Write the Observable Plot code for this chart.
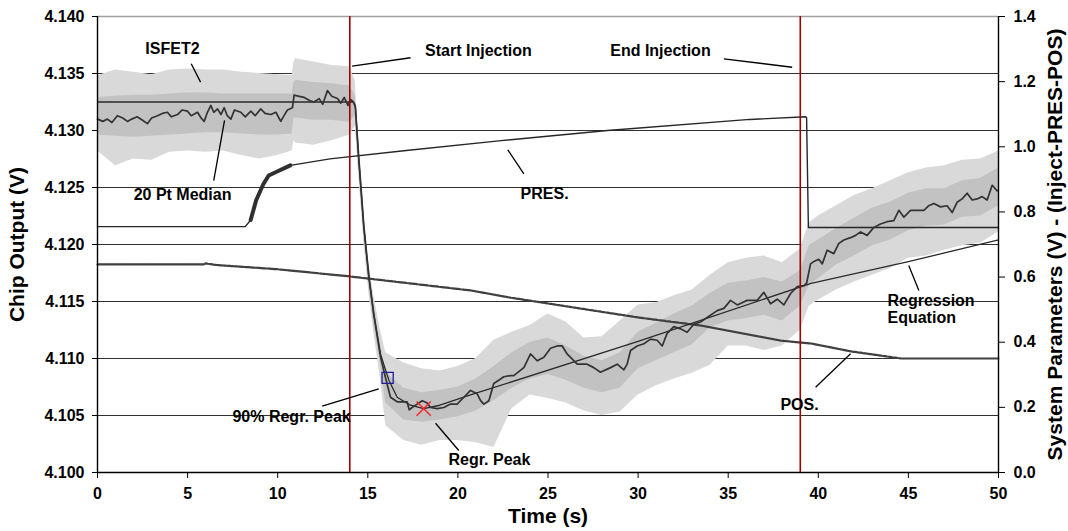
<!DOCTYPE html>
<html><head><meta charset="utf-8">
<script src="https://cdn.jsdelivr.net/npm/d3@7"></script>
<script src="https://cdn.jsdelivr.net/npm/@observablehq/plot@0.6"></script>
<style>body{margin:0;background:#fff} #chart{width:1068px;height:531px}</style>
</head><body><div id="chart"></div>
<script>
// ---- tick values ----
const xTicks = [0, 5, 10, 15, 20, 25, 30, 35, 40, 45, 50];
const leftTicks = [4.100, 4.105, 4.110, 4.115, 4.120, 4.125, 4.130, 4.135, 4.140];
const rightTicks = [0.0, 0.2, 0.4, 0.6, 0.8, 1.0, 1.2, 1.4];
const injections = [14, 39];

// ---- ISFET2 raw signal envelope (V) ----
const bandT = [0,1,2,3,4,5,6,7,8,9,10,10.8,10.9,11,12,13,14,14.3,14.5,14.78,15.06,15.33,15.7,
  16,17,18,19,20,21,22,23,24,25,26,27,28,29,30,31,32,33,34,35,36,37,38,39,39.5,40,41,42,43,44,45,46,47,48,49,50];
const spikeHi = [4.1348,4.1353,4.1351,4.1349,4.1353,4.1354,4.1353,4.1353,4.1351,4.1350,4.1349,4.1348,
  4.1360,4.1363,4.1360,4.1357,4.1356,4.1344,
  4.1287,4.1228,4.1184,4.1155,4.1125,
  4.1105,4.1096,4.1091,4.1089,4.1093,4.1100,4.1116,4.1123,4.1129,4.1139,4.1132,4.1118,4.1119,4.1133,4.1147,4.1149,4.1155,4.1160,4.1173,4.1184,4.1188,4.1190,4.1184,4.1196,
  4.1219,
  4.1225,4.1234,4.1243,4.1249,4.1256,4.1263,4.1267,4.1269,4.1274,4.1275,4.1282];
const coreHi = [4.1329,4.1330,4.1331,4.1331,4.1332,4.1333,4.1333,4.1332,4.1332,4.1332,4.1332,4.1332,
  4.1342,4.1344,4.1342,4.1341,4.1339,4.1331,
  4.1282,4.1223,4.1179,4.1148,4.1114,
  4.1088,4.1074,4.1070,4.1072,4.1075,4.1082,4.1093,4.1105,4.1114,4.1118,4.1111,4.1102,4.1098,4.1105,4.1123,4.1131,4.1139,4.1146,4.1157,4.1166,4.1168,4.1171,4.1167,4.1177,
  4.1199,
  4.1204,4.1214,4.1223,4.1232,4.1237,4.1245,4.1249,4.1249,4.1256,4.1258,4.1267];
const coreLo = [4.1296,4.1295,4.1294,4.1295,4.1296,4.1297,4.1298,4.1298,4.1297,4.1296,4.1296,4.1297,
  4.1311,4.1311,4.1309,4.1309,4.1307,4.1313,
  4.1265,4.1207,4.1163,4.1131,4.1095,
  4.1061,4.1046,4.1044,4.1046,4.1049,4.1054,4.1063,4.1074,4.1082,4.1086,4.1081,4.1074,4.1070,4.1074,4.1091,4.1098,4.1105,4.1112,4.1127,4.1133,4.1135,4.1138,4.1133,4.1146,
  4.1164,
  4.1170,4.1182,4.1190,4.1199,4.1204,4.1212,4.1216,4.1217,4.1224,4.1225,4.1234];
const spikeLo = [4.1282,4.1269,4.1275,4.1274,4.1281,4.1282,4.1281,4.1282,4.1278,4.1275,4.1278,4.1282,
  4.1291,4.1289,4.1287,4.1291,4.1296,4.1304,
  4.1261,4.1202,4.1158,4.1123,4.1082,
  4.1041,4.1028,4.1024,4.1028,4.1028,4.1026,4.1022,4.1056,4.1068,4.1065,4.1061,4.1054,4.1050,4.1053,4.1068,4.1076,4.1082,4.1087,4.1094,4.1111,4.1111,4.1107,4.1111,4.1125,
  4.1146,
  4.1151,4.1160,4.1167,4.1173,4.1179,4.1188,4.1190,4.1195,4.1199,4.1201,4.1211];

// ---- 20 Pt Median (V) ----
const medianT = [0.0,0.3,0.55,0.8,1.1,1.4,1.66,1.9,2.2,2.5,2.77,3.0,3.33,3.6,3.88,4.1,4.44,4.7,4.99,5.2,5.55,5.75,5.92,6.1,6.29,6.45,6.66,6.85,7.03,7.2,7.4,7.6,7.95,8.2,8.51,8.75,9.06,9.3,9.62,9.9,10.17,10.35,10.54,10.82,10.91,11.2,11.47,11.8,12.02,12.3,12.5,12.76,13.0,13.32,13.5,13.69,13.9,14.06,14.2,14.3,
  14.5,14.78,15.06,15.33,15.7,16.0,16.26,16.63,17.0,17.18,17.3,17.46,17.74,18.02,18.3,18.48,18.85,19.22,19.59,19.96,20.33,20.7,21.07,21.26,21.44,21.72,21.99,22.37,22.55,22.92,23.1,23.66,24.03,24.4,24.77,25.14,25.51,25.79,26.06,26.25,26.62,27.17,27.54,27.91,28.47,28.84,29.21,29.39,29.58,29.95,30.32,30.69,31.06,31.34,31.61,31.98,32.35,32.72,33.09,33.46,33.83,34.39,34.76,35.13,35.5,36.05,36.61,36.98,37.35,37.72,38.09,38.46,38.83,39.2,39.35,39.57,39.75,40.03,40.22,40.49,40.86,41.14,41.42,41.79,42.07,42.34,42.71,43.08,43.45,43.82,44.19,44.47,44.75,45.12,45.49,45.86,46.13,46.41,46.78,47.15,47.43,47.7,47.98,48.26,48.54,48.81,49.09,49.37,49.65,49.93];
const medianV = [4.1310,4.1308,4.1310,4.1307,4.1313,4.1311,4.1308,4.1310,4.1312,4.1309,4.1306,4.1311,4.1313,4.1315,4.1316,4.1312,4.1314,4.1318,4.1317,4.1313,4.1316,4.1311,4.1308,4.1316,4.1322,4.1316,4.1319,4.1314,4.1320,4.1313,4.1310,4.1318,4.1316,4.1312,4.1317,4.1313,4.1319,4.1315,4.1314,4.1316,4.1308,4.1313,4.1318,4.1320,4.1331,4.1330,4.1329,4.1326,4.1325,4.1328,4.1323,4.1335,4.1330,4.1328,4.1324,4.1329,4.1322,4.1327,4.1325,4.1322,
  4.1276,4.1216,4.1172,4.1139,4.1102,4.1082,4.1066,4.1062,4.1062,4.1062,4.1055,4.1057,4.1060,4.1063,4.1061,4.1057,4.1056,4.1057,4.1060,4.1060,4.1066,4.1072,4.1069,4.1063,4.1060,4.1063,4.1078,4.1082,4.1084,4.1085,4.1085,4.1092,4.1104,4.1098,4.1101,4.1109,4.1111,4.1111,4.1104,4.1101,4.1095,4.1095,4.1092,4.1088,4.1092,4.1095,4.1090,4.1095,4.1107,4.1111,4.1113,4.1117,4.1116,4.1111,4.1122,4.1128,4.1126,4.1123,4.1130,4.1132,4.1136,4.1142,4.1144,4.1151,4.1147,4.1151,4.1151,4.1158,4.1148,4.1152,4.1147,4.1157,4.1163,4.1164,4.1166,4.1183,4.1185,4.1187,4.1183,4.1195,4.1192,4.1201,4.1204,4.1206,4.1208,4.1211,4.1208,4.1215,4.1218,4.1220,4.1221,4.1230,4.1224,4.1230,4.1230,4.1230,4.1234,4.1236,4.1233,4.1234,4.1228,4.1237,4.1240,4.1245,4.1239,4.1240,4.1242,4.1239,4.1252,4.1247];

// ---- Regression equation (V) ----
const regT = [0, 14.2, 14.32, 14.5, 14.78, 15.06, 15.33, 15.7, 16.17, 16.63, 17.37, 18.1, 19, 20.7, 30, 39.6, 45, 50];
const regV = [4.1325, 4.1325, 4.1320, 4.1274, 4.1215, 4.1171, 4.1139, 4.1104, 4.1081, 4.1066, 4.1059, 4.1056, 4.1059, 4.1068, 4.1115, 4.1166, 4.1185, 4.1204];

// ---- System parameters (right axis, V) ----
const presT = [0, 8.2, 8.5, 8.8, 9.2, 9.5, 10, 10.7, 12.9, 17, 22.4, 28.3, 36.2, 39.3, 39.35, 39.45, 50];
const presV = [0.755, 0.755, 0.775, 0.835, 0.885, 0.912, 0.925, 0.943, 0.963, 0.988, 1.019, 1.050, 1.084, 1.092, 1.090, 0.752, 0.752];
const posT = [0, 5.9, 6.0, 6.6, 10, 14, 20.7, 22.9, 30, 33.5, 37.9, 39.6, 41.8, 44.6, 50];
const posV = [0.639, 0.639, 0.642, 0.637, 0.624, 0.602, 0.559, 0.537, 0.476, 0.451, 0.405, 0.396, 0.372, 0.350, 0.350];

// ---- markers ----
const peak90 = {t: 16.1, v: 4.1083};
const peak = {t: 18.1, v: 4.1056};

// ---- annotations ----
const annoLabels = ["ISFET2", "20 Pt Median", "Start Injection", "End Injection", "PRES.", "POS.", "90% Regr. Peak", "Regr. Peak"];
const annoT = [4.16, 4.72, 21.14, 31.24, 24.81, 38.96, 10.77, 21.75];
const annoV = [4.13719, 4.12439, 4.13702, 4.13702, 4.12447, 4.10596, 4.10491, 4.10114];
const arrowT1 = [5.20, 6.45, 17.37, 34.76, 23.66, 45.58, 39.85, 12.47, 20.05];
const arrowV1 = [4.13585, 4.12561, 4.13638, 4.13629, 4.12620, 4.11596, 4.10748, 4.10582, 4.10193];
const arrowT2 = [5.72, 7.05, 14.13, 38.55, 22.77, 45.02, 41.79, 15.61, 18.76];
const arrowV2 = [4.13424, 4.13088, 4.13564, 4.13555, 4.12831, 4.11816, 4.11041, 4.10734, 4.10432];

// ---- build tables ----
const toLeft = r => 4.100 + r * (0.040 / 1.4);
const fromLeft = v => (v - 4.100) * 1.4 / 0.040;
const band = bandT.map((t, i) => ({t, sHi: spikeHi[i], cHi: coreHi[i], cLo: coreLo[i], sLo: spikeLo[i]}));
const median = medianT.map((t, i) => ({t, v: medianV[i]}));
const reg = regT.map((t, i) => ({t, v: regV[i]}));
const pres = presT.map((t, i) => ({t, r: presV[i]}));
const pos = posT.map((t, i) => ({t, r: posV[i]}));
const annos = annoLabels.map((label, i) => ({label, t: annoT[i], v: annoV[i]}));
const arrows = arrowT1.map((t1, i) => ({t1, v1: arrowV1[i], t2: arrowT2[i], v2: arrowV2[i]}));

const FONT = "'Liberation Sans', Arial, Helvetica, sans-serif";

const svg = Plot.plot({
  width: 1068, height: 531,
  marginLeft: 97, marginRight: 70, marginTop: 16, marginBottom: 59,
  x: {domain: [0, 50]},
  y: {domain: [4.100, 4.140]},
  style: {fontFamily: FONT, fontWeight: "bold", fontSize: "16px", color: "#000", background: "#fff"},
  marks: [
    Plot.ruleY(leftTicks.slice(1, -1), {stroke: "#303030", strokeWidth: 1.2}),
    Plot.ruleY([4.140], {stroke: "#a0a0a0", strokeWidth: 1.3}),
    Plot.areaY(band, {x: "t", y1: "sLo", y2: "sHi", fill: "#d9d9d9", curve: "linear"}),
    Plot.areaY(band, {x: "t", y1: "cLo", y2: "cHi", fill: "#c2c2c2", curve: "linear"}),
    Plot.line(pres, {x: "t", y: d => toLeft(d.r), stroke: "#262626", strokeWidth: 1.4}),
    Plot.line(pres.filter(d => d.t >= 8.5 && d.t <= 10.7), {x: "t", y: d => toLeft(d.r), stroke: "#303030", strokeWidth: 4}),
    Plot.line(pos, {x: "t", y: d => toLeft(d.r), stroke: "#404040", strokeWidth: 2.2, strokeDasharray: "2,0.7"}),
    Plot.line(reg, {x: "t", y: "v", stroke: "#2a2a2a", strokeWidth: 1.3}),
    Plot.line(median, {x: "t", y: "v", stroke: "#333", strokeWidth: 1.7}),
    Plot.ruleX(injections, {stroke: "#a00000", strokeWidth: 1.6}),
    Plot.dot([peak90], {x: "t", y: "v", symbol: "square", r: 6.3, stroke: "#1c1c9c", strokeWidth: 1.3, fill: "none"}),
    Plot.dot([peak], {x: "t", y: "v", symbol: "times", r: 6.5, stroke: "#ff2020", strokeWidth: 1.4}),
    Plot.ruleX([0], {stroke: "#000", strokeWidth: 1.4}),
    Plot.ruleX([50], {stroke: "#000", strokeWidth: 1.4}),
    Plot.ruleY([4.100], {stroke: "#000", strokeWidth: 1.4}),
    Plot.axisY(leftTicks, {anchor: "left", tickSize: 5, tickPadding: 8, tickFormat: d => d.toFixed(3), label: null, fontSize: 16, fontWeight: "bold"}),
    Plot.axisY(rightTicks.map(toLeft), {anchor: "right", tickSize: 6, tickPadding: 9, tickFormat: v => Math.abs(fromLeft(v)).toFixed(1), label: null, fontSize: 16, fontWeight: "bold"}),
    Plot.axisX(xTicks, {anchor: "bottom", tickSize: 6, tickPadding: 9, tickFormat: d => String(d), label: null, fontSize: 16, fontWeight: "bold"}),
    Plot.text(["Chip Output (V)"], {frameAnchor: "left", textAnchor: "middle", dx: -80, rotate: -90, fontSize: 21, fontWeight: "bold", fill: "#000"}),
    Plot.text(["System Parameters (V) - (Inject-PRES-POS)"], {frameAnchor: "right", textAnchor: "middle", dx: 57, rotate: -90, fontSize: 21, fontWeight: "bold", fill: "#000"}),
    Plot.text(["Time (s)"], {frameAnchor: "bottom", dy: 50, fontSize: 21, fontWeight: "bold", fill: "#000"}),
    Plot.link(arrows, {x1: "t1", y1: "v1", x2: "t2", y2: "v2", stroke: "#000", strokeWidth: 1.3, ariaLabel: "annotation arrow"}),
    Plot.text(annos, {x: "t", y: "v", text: "label", fontSize: 16, fontWeight: "bold", fill: "#000"}),
    Plot.text(["Regression\nEquation"], {x: 43.84, y: 4.11434, textAnchor: "start", lineHeight: 1.1, fontSize: 16, fontWeight: "bold", fill: "#000"})
  ]
});

const sel = d3.select(svg);
const defs = sel.insert("defs", ":first-child");
defs.append("marker").attr("id", "ah").attr("viewBox", "0 0 10 10")
  .attr("refX", 10).attr("refY", 5).attr("markerWidth", 10).attr("markerHeight", 8)
  .attr("markerUnits", "userSpaceOnUse").attr("orient", "auto")
  .append("path").attr("d", "M0,0L10,5L0,10z").attr("fill", "#000");
sel.selectAll('g[aria-label="annotation arrow"] path').attr("marker-end", "url(#ah)");

document.getElementById("chart").appendChild(svg);
</script>
</body></html>
